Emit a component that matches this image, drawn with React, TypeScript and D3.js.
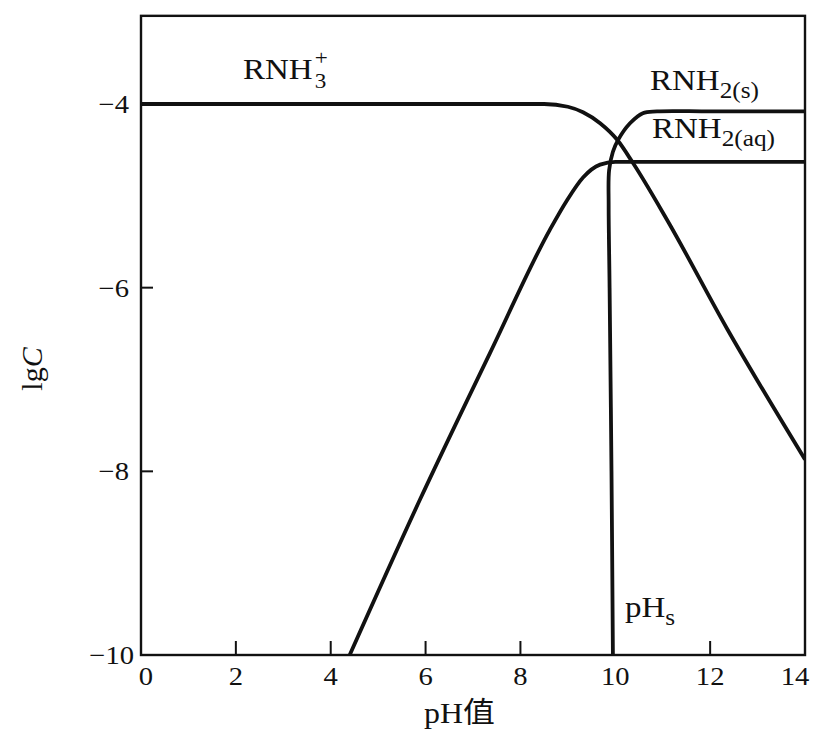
import React from 'react';
import * as d3 from 'd3';

// values: [pH, lgC]
const rnh3Plus: [number, number][] = [
  [0, -4], [6, -4], [8.5, -4], [9.0, -4.03], [9.32, -4.09], [9.68, -4.21], [10.04, -4.39],
  [10.37, -4.64], [11.09, -5.26], [12.36, -6.45], [14, -7.87],
];
const rnh2Aq: [number, number][] = [
  [4.4, -10], [5.88, -8.31], [7.36, -6.71], [8.62, -5.37], [8.98, -5.05], [9.32, -4.8],
  [9.68, -4.66], [10.0, -4.63], [11, -4.63], [14, -4.63],
];
const rnh2S: [number, number][] = [
  [9.95, -10], [9.92, -8], [9.88, -6], [9.86, -5.1], [9.87, -4.72], [9.95, -4.52],
  [10.06, -4.39], [10.31, -4.21], [10.58, -4.1], [10.88, -4.08], [12, -4.08], [14, -4.08],
];

const xTickLabels = [0, 2, 4, 6, 8, 10, 12, 14];
const xInnerTicks = [2, 4, 6, 8, 12];
const yTickLabels = [-4, -6, -8, -10];
const yInnerTicks = [-4, -6, -8];

const W = 816;
const H = 741;
const serif = '"Liberation Serif", "Times New Roman", serif';
const cjk = '"Liberation Serif", "Noto Sans CJK SC", serif';
const SX = 1.1; // the scan is a little wider than tall

function Label(props: { x: number; y: number; size: number; anchor?: string; children: React.ReactNode; family?: string }) {
  return (
    <text
      transform={`translate(${props.x},${props.y}) scale(${SX},1)`}
      fontSize={props.size}
      fontFamily={props.family || serif}
      textAnchor={props.anchor || 'start'}
      fill="#111"
    >
      {props.children}
    </text>
  );
}

export default function App() {
  const x = d3.scaleLinear().domain([0, 14]).range([141, 805]);
  const y = d3.scaleLinear().domain([-10, -4]).range([655, 104]);
  const yTop = -3.04;

  const smooth = d3
    .line<[number, number]>()
    .x(d => x(d[0]))
    .y(d => y(d[1]))
    .curve(d3.curveMonotoneX);

  // the solid-phase curve runs back on itself in x, so it needs a parametric curve
  const bent = d3
    .line<[number, number]>()
    .x(d => x(d[0]))
    .y(d => y(d[1]))
    .curve(d3.curveCatmullRom.alpha(0.5));

  const left = x(0);
  const right = x(14);
  const top = y(yTop);
  const bottom = y(-10);

  return (
    <svg width={W} height={H} style={{ position: 'absolute', left: 0, top: 0, background: '#fff' }}>
      <defs>
        <clipPath id="plot">
          <rect x={left} y={top} width={right - left} height={bottom - top} />
        </clipPath>
      </defs>

      <g clipPath="url(#plot)" fill="none" stroke="#111" strokeWidth={3.8} strokeLinejoin="round">
        <path d={smooth(rnh3Plus) || ''} />
        <path d={smooth(rnh2Aq) || ''} />
        <path d={bent(rnh2S) || ''} />
      </g>

      {/* frame */}
      <rect x={left} y={top} width={right - left} height={bottom - top} fill="none" stroke="#111" strokeWidth={2.4} />

      {/* inner ticks */}
      {xInnerTicks.map(t => (
        <line key={'xt' + t} x1={x(t)} x2={x(t)} y1={bottom} y2={bottom - 14} stroke="#111" strokeWidth={2} />
      ))}
      {yInnerTicks.map(t => (
        <line key={'yt' + t} x1={left} x2={left + 12} y1={y(t)} y2={y(t)} stroke="#111" strokeWidth={2} />
      ))}

      {/* tick labels */}
      {xTickLabels.map(t => (
        <Label key={'xl' + t} x={x(t) + (t === 0 ? 5 : t === 14 ? -10 : 0)} y={685} size={26} anchor="middle">
          {String(t)}
        </Label>
      ))}
      {yTickLabels.map(t => (
        <Label key={'yl' + t} x={t === -10 ? 134 : 129} y={y(t) + 9} size={26} anchor="end">
          {'\u2212' + Math.abs(t)}
        </Label>
      ))}

      {/* axis titles */}
      <Label x={424} y={723} size={29} family={cjk}>
        pH值
      </Label>
      <text transform="translate(42,369) rotate(-90)" fontSize={30} fontFamily={serif} textAnchor="middle" fill="#111">
        lg<tspan fontStyle="italic">C</tspan>
      </text>

      {/* species labels */}
      <Label x={243} y={79} size={30}>
        RNH<tspan fontSize={21} dx={2} dy={-14}>+</tspan>
        <tspan fontSize={21} dx={-12} dy={23}>3</tspan>
      </Label>

      <Label x={650} y={90} size={30}>
        RNH<tspan fontSize={23} dy={8}>2(s)</tspan>
      </Label>
      <Label x={652} y={138} size={30}>
        RNH<tspan fontSize={23} dy={8}>2(aq)</tspan>
      </Label>
      <Label x={625} y={617} size={30}>
        pH<tspan fontSize={23} dy={8}>s</tspan>
      </Label>
    </svg>
  );
}
